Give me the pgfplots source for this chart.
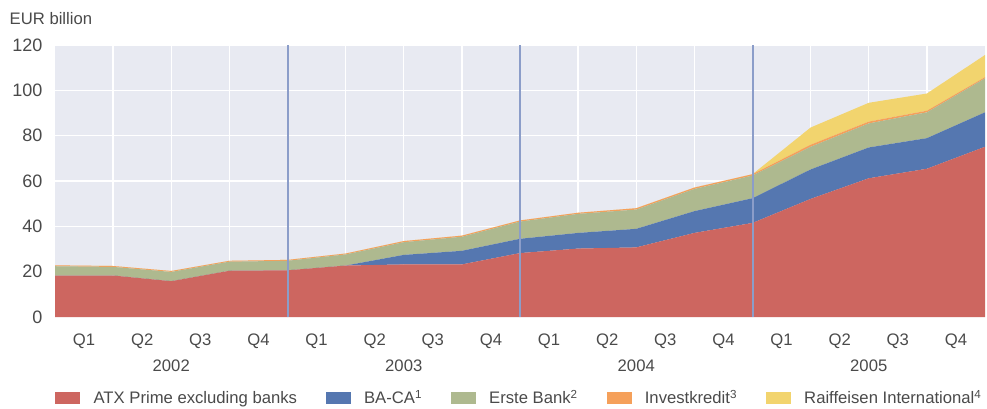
\documentclass[border=0pt]{standalone}
\usepackage{pgfplots}
\pgfplotsset{compat=1.18}
\usepackage{pgfplotstable}
\usepackage{fontspec}
\setmainfont{Liberation Sans}
\definecolor{bgc}{HTML}{E8EAF2}
\definecolor{cred}{HTML}{CD6660}
\definecolor{cblue}{HTML}{5577B0}
\definecolor{cgreen}{HTML}{AEB98F}
\definecolor{corange}{HTML}{F5A05A}
\definecolor{cyellow}{HTML}{F2D46E}
\definecolor{cline}{HTML}{8B9DC9}
\definecolor{ctext}{HTML}{4A4A4A}
\pgfplotstableread{
q red blue green orange yellow
0 18.3 0 4.1 0.4 0
1 18.3 0 3.8 0.4 0
2 15.8 0 4.1 0.4 0
3 20.4 0 4.0 0.4 0
4 20.6 0 4.2 0.4 0
5 22.7 0 4.9 0.4 0
6 23.2 4.2 5.6 0.5 0
7 23.2 6.0 6.2 0.5 0
8 28.2 6.3 7.6 0.5 0
9 30.2 6.9 8.4 0.5 0
10 30.7 8.2 8.5 0.6 0
11 37.1 9.6 9.8 0.6 0
12 41.5 10.9 10.0 0.6 0
13 52.1 13.0 10.0 0.9 7.6
14 61.2 13.6 10.6 0.8 8.3
15 65.4 13.5 11.4 0.7 7.6
16 75.1 15.2 15.0 0.5 9.8
}\datatable
\begin{document}
\begin{tikzpicture}
\begin{axis}[
  scale only axis, width=697.5pt, height=204pt,
  xmin=0, xmax=16, ymin=0, ymax=120,
  stack plots=y,
  /pgf/number format/assume math mode=true,
  axis background/.style={fill=bgc},
  axis line style={draw=none},
  major tick length=0pt,
  ytick={0,20,...,120},
  xtick={0.5,1.5,...,15.5},
  xticklabels={Q1,Q2,Q3,Q4,Q1,Q2,Q3,Q4,Q1,Q2,Q3,Q4,Q1,Q2,Q3,Q4},
  extra x ticks={1,2,...,15},
  extra x tick labels={},
  extra x tick style={grid=major, major grid style={white, line width=1pt}},
  ymajorgrids, major grid style={white, line width=1pt},
  tick label style={font=\fontsize{12.5}{14}\selectfont, text=ctext},
  yticklabel style={font=\fontsize{13.5}{15}\selectfont, xshift=-6pt},
  xticklabel style={yshift=-9pt},
  legend columns=5,
  legend style={at={(0,0)}, anchor=west, yshift=-60.75pt, draw=none, fill=none,
    inner sep=0pt, font=\fontsize{12.5}{14}\selectfont, text=ctext,
    /tikz/every odd column/.append style={column sep=10pt},
    /tikz/every even column/.append style={column sep=21.5pt},
    nodes={inner sep=0pt}},
  legend image code/.code={\path[#1] (0pt,-4.5pt) rectangle (18.75pt,4.5pt);},
  clip=false,
]
\draw[cline, line width=1.5pt] (axis cs:4,0) -- (axis cs:4,120);
\draw[cline, line width=1.5pt] (axis cs:8,0) -- (axis cs:8,120);
\draw[cline, line width=1.5pt] (axis cs:12,0) -- (axis cs:12,120);
\addplot[fill=cred, draw=none] table[x=q, y=red] {\datatable} \closedcycle;
\addlegendentry{ATX Prime excluding banks}
\addplot[fill=cblue, draw=none] table[x=q, y=blue] {\datatable} \closedcycle;
\addlegendentry{BA-CA\textsuperscript{1}}
\addplot[fill=cgreen, draw=none] table[x=q, y=green] {\datatable} \closedcycle;
\addlegendentry{Erste Bank\textsuperscript{2}}
\addplot[fill=corange, draw=none] table[x=q, y=orange] {\datatable} \closedcycle;
\addlegendentry{Investkredit\textsuperscript{3}}
\addplot[fill=cyellow, draw=none] table[x=q, y=yellow] {\datatable} \closedcycle;
\addlegendentry{Raiffeisen International\textsuperscript{4}}
\node[font=\fontsize{12.5}{14}\selectfont, text=ctext] at (axis cs:2,0) [yshift=-36.75pt] {2002};
\node[font=\fontsize{12.5}{14}\selectfont, text=ctext] at (axis cs:6,0) [yshift=-36.75pt] {2003};
\node[font=\fontsize{12.5}{14}\selectfont, text=ctext] at (axis cs:10,0) [yshift=-36.75pt] {2004};
\node[font=\fontsize{12.5}{14}\selectfont, text=ctext] at (axis cs:14,0) [yshift=-36.75pt] {2005};
\node[font=\fontsize{12.5}{14}\selectfont, text=ctext, anchor=west] at (axis description cs:0,1) [xshift=-37.5pt, yshift=20pt] {EUR billion};
\end{axis}
\useasboundingbox (-41.25pt,-68.25pt) rectangle (699pt,237.75pt);
\end{tikzpicture}
\end{document}
